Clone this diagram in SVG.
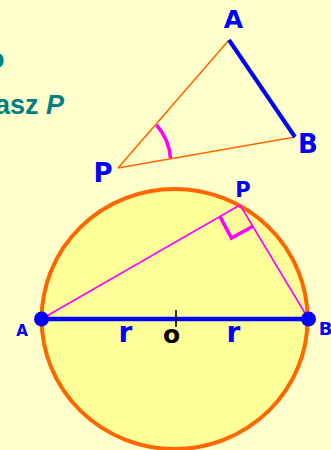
<svg xmlns="http://www.w3.org/2000/svg" width="331" height="450" viewBox="0 0 331 450">
<style>
.lbl{font-family:"DejaVu Sans",sans-serif;font-weight:bold;fill:#0000FF;text-anchor:middle}
.tl{font-family:"Liberation Sans",Arial,sans-serif;font-weight:bold;fill:#008080}
.thin{stroke:#FF6600;stroke-width:1.6;fill:none}
.mag{stroke:#FF00FF;fill:none}
</style>
<rect width="331" height="450" fill="#FFFFCC"/>
<g id="caption">
<text class="tl" x="4.5" y="68" font-size="27" text-anchor="end">o</text>
<text class="tl" x="64" y="113.5" font-size="27" text-anchor="end">asz <tspan font-style="italic">P</tspan></text>
</g>
<g id="triangle">
<line class="thin" x1="118" y1="168" x2="229" y2="40"/>
<line class="thin" x1="118" y1="168" x2="295" y2="137"/>
<line x1="229" y1="40" x2="295" y2="137" stroke="#0000FF" stroke-width="4"/>
<path class="mag" d="M156.5,125 A56 56 0 0 1 170.5,158.3" stroke-width="3.5"/>
<text class="lbl" x="233.5" y="28" font-size="25">A</text>
<text class="lbl" x="308" y="153" font-size="26">B</text>
<text class="lbl" x="103" y="181.5" font-size="26">P</text>
</g>
<g id="circle">
<ellipse cx="174.6" cy="319" rx="133" ry="130" fill="#FFFF99" stroke="#FF6600" stroke-width="4"/>
</g>
<g id="connectors">
<line class="mag" x1="41.5" y1="319" x2="240" y2="205" stroke-width="1.6"/>
<line class="mag" x1="240" y1="205" x2="308.5" y2="319" stroke-width="1.6"/>
<polyline class="mag" points="220,216.6 231.5,238 252.5,226.5" stroke-width="3.5"/>
<line x1="41.5" y1="319" x2="308.5" y2="319" stroke="#0000FF" stroke-width="4.5"/>
<line x1="176" y1="310" x2="176" y2="327" stroke="#000" stroke-width="1.6"/>
</g>
<g id="pointA"><circle cx="41.5" cy="319" r="7.5" fill="#0000FF"/><text class="lbl" x="22" y="336" font-size="15">A</text></g>
<g id="pointB"><circle cx="308.5" cy="319" r="7.5" fill="#0000FF"/><text class="lbl" x="325.5" y="335" font-size="18">B</text></g>
<g id="pointP"><text class="lbl" x="243" y="197" font-size="21">P</text></g>
<g id="labels">
<text class="lbl" x="125.5" y="341.5" font-size="28">r</text>
<text class="lbl" x="233.5" y="341.5" font-size="28">r</text>
<text class="lbl" x="171.5" y="342.5" font-size="25" style="fill:#000">o</text>
</g>
</svg>
